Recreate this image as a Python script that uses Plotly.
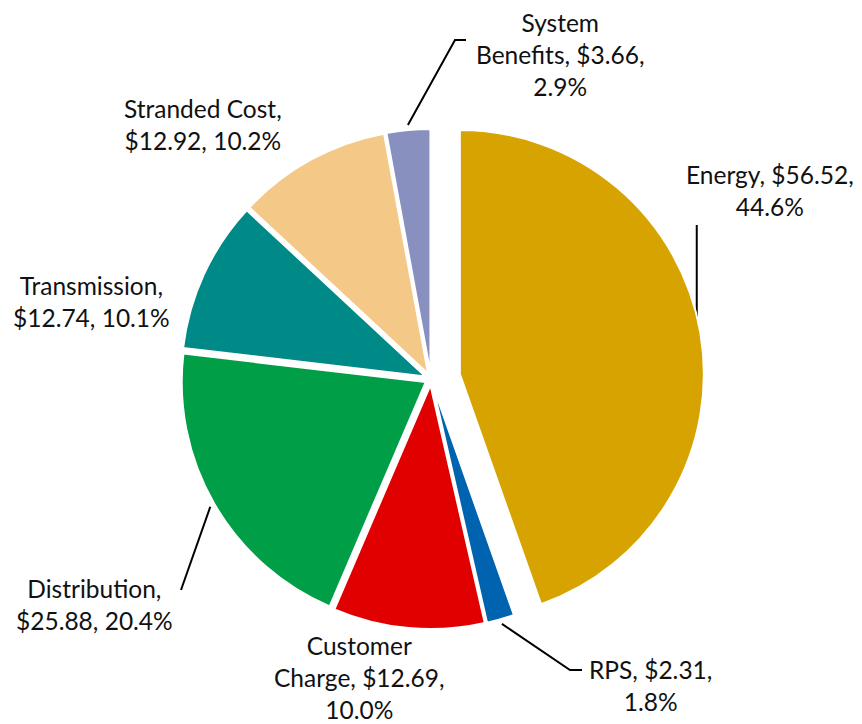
import math
import plotly.graph_objects as go

W, H = 862, 724
OFF = 8  # page body margin around the fixed-size figure

labels = ["Energy", "RPS", "Customer Charge", "Distribution",
          "Transmission", "Stranded Cost", "System Benefits"]
values = [56.52, 2.31, 12.69, 25.88, 12.74, 12.92, 3.66]
colors = ["#D6A300", "#0063AF", "#E10000", "#009E47",
          "#008A87", "#F4C987", "#8890BF"]

# how each label text is broken into lines
label_names = ["Energy", "RPS", "Customer<br>Charge", "Distribution",
               "Transmission", "Stranded Cost", "System<br>Benefits"]
break_at = ["pct", "pct", "pct", "value", "value", "value", "pct"]

# label centres (window pixels) and leader line elbows (from the label side)
label_pos = [(770, 190), (650, 685), (359, 677), (94, 604),
             (91, 301), (203, 124), (560, 54)]
leaders = {
    "Energy": (0.985, [(None, 225)]),
    "RPS": (1.02, [(582, 670), (570, 670)]),
    "Distribution": (1.02, [(181, 590)]),
    "System Benefits": (1.02, [(466, 40), (455, 40)]),
}

pulls = [0.12, 0.025, 0.025, 0.025, 0.025, 0.025, 0.025]

# pie geometry in window pixels
CX, CY, R = 431, 379, 244
half = R * (1 + max(pulls))

total = sum(values)
percents = [v / total * 100 for v in values]

texts = []
for name, v, p, b in zip(label_names, values, percents, break_at):
    sep1 = ",<br>" if b == "value" else ", "
    sep2 = "<br>" if b == "pct" else " "
    texts.append(f"{name}{sep1}${v:.2f},{sep2}{p:.1f}%")

fig = go.Figure()

fig.add_trace(
    go.Pie(
        values=values,
        labels=labels,
        sort=False,
        direction="clockwise",
        rotation=0,
        pull=pulls,
        textinfo="none",
        hoverinfo="label+value+percent",
        marker=dict(colors=colors, line=dict(color="white", width=2)),
        domain=dict(
            x=[(CX - OFF - half) / W, (CX - OFF + half) / W],
            y=[1 - (CY - OFF + half) / H, 1 - (CY - OFF - half) / H],
        ),
        showlegend=False,
    )
)

# leader lines: start on the slice edge at its mid angle
cum = 0
for lab, v, pull in zip(labels, values, pulls):
    mid = math.radians((cum + v / 2) / total * 360)
    cum += v
    if lab not in leaders:
        continue
    k, elbows = leaders[lab]
    sx = CX + (pull + k) * R * math.sin(mid)
    sy = CY - (pull + k) * R * math.cos(mid)
    pts = [(sx, sy)] + [(sx if ex is None else ex, ey) for ex, ey in elbows[::-1]]
    fig.add_trace(
        go.Scatter(
            x=[p[0] for p in pts],
            y=[p[1] for p in pts],
            mode="lines",
            line=dict(color="black", width=2),
            hoverinfo="skip",
            showlegend=False,
        )
    )

for t, (x, y) in zip(texts, label_pos):
    fig.add_annotation(
        x=x, y=y, xref="x", yref="y",
        text=t, showarrow=False,
        xanchor="center", yanchor="middle", align="center",
        font=dict(family="Lato", size=24.5, color="#111111"),
    )

fig.update_layout(
    width=W,
    height=H,
    margin=dict(l=0, r=0, t=0, b=0),
    paper_bgcolor="white",
    plot_bgcolor="rgba(0,0,0,0)",
    xaxis=dict(range=[OFF, W + OFF], visible=False, fixedrange=True, domain=[0, 1]),
    yaxis=dict(range=[H + OFF, OFF], visible=False, fixedrange=True, domain=[0, 1]),
)

fig.write_html("out.html")
